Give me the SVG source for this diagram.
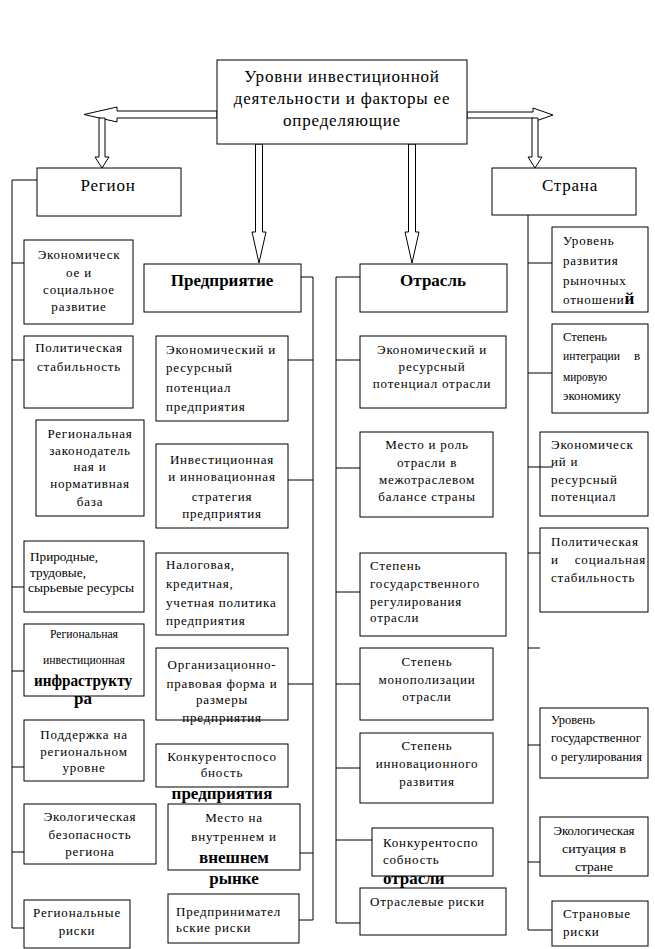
<svg xmlns="http://www.w3.org/2000/svg" width="655" height="949" viewBox="0 0 655 949" font-family="'Liberation Serif', 'Times New Roman', Tinos, 'DejaVu Serif', serif">
<style>
.box{fill:#fff;stroke:#000;stroke-width:1}
.arr{fill:#fff;stroke:#000;stroke-width:1}
.conn{fill:none;stroke:#000;stroke-width:1}
text{font-family:'Liberation Serif','Times New Roman',Tinos,'DejaVu Serif',serif;font-size:13px;letter-spacing:0.8px;fill:#000}
.c{text-anchor:middle}
.h{font-size:17px;letter-spacing:0.8px}
.bb{font-weight:bold;font-size:17px;letter-spacing:0}
.n{letter-spacing:0}
</style>
<rect width="655" height="949" fill="#fff"/>

<g id="arrows">
<polygon class="arr" points="217,111 117,111 117,107 84,114.5 117,122 117,118 217,118"/>
<polygon class="arr" points="99,118 99,157 95,157 102,168 109,157 105,157 105,118"/>
<polygon class="arr" points="467,112 533,112 533,108 553,115 533,122 533,118 467,118"/>
<polygon class="arr" points="532,118 532,157 528,157 535,168 542,157 538,157 538,118"/>
<polygon class="arr" points="255.5,144 255.5,232 252,232 259,263 266,232 262.5,232 262.5,144"/>
<polygon class="arr" points="408.5,144 408.5,232 405,232 412,263 419,232 415.5,232 415.5,144"/>
</g>

<g id="title">
<rect class="box" x="217" y="60" width="250" height="84"/>
<text class="c h" x="342" y="82">Уровни инвестиционной</text>
<text class="c h" x="342" y="104">деятельности и факторы ее</text>
<text class="c h" x="342" y="126">определяющие</text>
</g>

<g id="region">
<rect class="box" x="37" y="168" width="144" height="48"/>
<text class="c h" x="108" y="191">Регион</text>
</g>
<g id="country">
<rect class="box" x="492" y="168" width="144" height="47"/>
<text class="c h" x="570" y="191">Страна</text>
</g>
<g id="enterprise">
<rect class="box" x="144" y="264" width="157" height="48"/>
<text class="c bb" x="222" y="286">Предприятие</text>
</g>
<g id="industry">
<rect class="box" x="360" y="264" width="147" height="48"/>
<text class="c bb" x="433" y="286">Отрасль</text>
</g>

<g id="r1">
<rect class="box" x="24" y="240" width="109" height="84"/>
<text class="c" x="79" y="259">Экономическ</text>
<text class="c" x="79" y="277">ое и</text>
<text class="c" x="79" y="294">социальное</text>
<text class="c" x="79" y="311">развитие</text>
</g>
<g id="r2">
<rect class="box" x="24" y="336" width="109" height="72"/>
<text class="c" x="79" y="352">Политическая</text>
<text class="c" x="79" y="371">стабильность</text>
</g>
<g id="r3">
<rect class="box" x="36" y="420" width="108" height="96"/>
<text class="c" x="90" y="438">Региональная</text>
<text class="c" x="90" y="455">законодатель</text>
<text class="c" x="90" y="471">ная и</text>
<text class="c" x="90" y="488">нормативная</text>
<text class="c" x="90" y="506">база</text>
</g>
<g id="r4">
<rect class="box" x="24" y="541" width="120" height="71"/>
<text class="n" x="30" y="561" textLength="68" lengthAdjust="spacingAndGlyphs">Природные,</text>
<text class="n" x="30" y="577" textLength="56" lengthAdjust="spacingAndGlyphs">трудовые,</text>
<text class="n" x="28" y="592" textLength="106" lengthAdjust="spacingAndGlyphs">сырьевые ресурсы</text>
</g>
<g id="r5">
<rect class="box" x="24" y="624" width="120" height="72"/>
<text class="c n" x="84" y="638" textLength="68" lengthAdjust="spacingAndGlyphs">Региональная</text>
<text class="c n" x="84" y="664" textLength="82" lengthAdjust="spacingAndGlyphs">инвестиционная</text>
<text class="c bb" x="83" y="686" textLength="98" lengthAdjust="spacingAndGlyphs">инфраструкту</text>
<text class="c bb" x="83" y="704">ра</text>
</g>
<g id="r6">
<rect class="box" x="24" y="720" width="120" height="61"/>
<text class="c" x="84" y="739">Поддержка на</text>
<text class="c" x="84" y="756">региональном</text>
<text class="c" x="84" y="772">уровне</text>
</g>
<g id="r7">
<rect class="box" x="24" y="804" width="132" height="60"/>
<text class="c" x="90" y="821">Экологическая</text>
<text class="c" x="90" y="839">безопасность</text>
<text class="c" x="90" y="856">региона</text>
</g>
<g id="r8">
<rect class="box" x="24" y="900" width="106" height="48"/>
<text class="c" x="77" y="917">Региональные</text>
<text class="c" x="77" y="935">риски</text>
</g>

<g id="e1">
<rect class="box" x="156" y="336" width="132" height="85"/>
<text x="166" y="354">Экономический и</text>
<text x="166" y="372">ресурсный</text>
<text x="166" y="392">потенциал</text>
<text x="166" y="411">предприятия</text>
</g>
<g id="e2">
<rect class="box" x="156" y="444" width="132" height="84"/>
<text class="c" x="222" y="464">Инвестиционная</text>
<text class="c" x="222" y="481">и инновационная</text>
<text class="c" x="222" y="501">стратегия</text>
<text class="c" x="222" y="518">предприятия</text>
</g>
<g id="e3">
<rect class="box" x="156" y="553" width="132" height="82"/>
<text x="166" y="569">Налоговая,</text>
<text x="166" y="588">кредитная,</text>
<text x="166" y="607">учетная политика</text>
<text x="166" y="625">предприятия</text>
</g>
<g id="e4">
<rect class="box" x="156" y="648" width="132" height="72"/>
<text class="c" x="222" y="669">Организационно-</text>
<text class="c" x="222" y="688">правовая форма и</text>
<text class="c" x="222" y="704">размеры</text>
<text class="c" x="222" y="722">предприятия</text>
</g>
<g id="e5">
<rect class="box" x="156" y="744" width="132" height="43"/>
<text class="c" x="222" y="761">Конкурентоспосо</text>
<text class="c" x="222" y="777">бность</text>
<text class="c bb" x="222" y="799">предприятия</text>
</g>
<g id="e6">
<rect class="box" x="168" y="804" width="132" height="66"/>
<text class="c" x="234" y="822">Место на</text>
<text class="c" x="234" y="841">внутреннем и</text>
<text class="c bb" x="234" y="863">внешнем</text>
<text class="c bb" x="234" y="884">рынке</text>
</g>
<g id="e7">
<rect class="box" x="168" y="894" width="131" height="49"/>
<text x="176" y="916">Предпринимател</text>
<text x="176" y="932">ьские риски</text>
</g>

<g id="i1">
<rect class="box" x="360" y="336" width="146" height="72"/>
<text class="c" x="432" y="354">Экономический и</text>
<text class="c" x="432" y="371">ресурсный</text>
<text class="c" x="432" y="388">потенциал отрасли</text>
</g>
<g id="i2">
<rect class="box" x="360" y="432" width="133" height="85"/>
<text class="c" x="427" y="449">Место и роль</text>
<text class="c" x="427" y="467">отрасли в</text>
<text class="c" x="427" y="484">межотраслевом</text>
<text class="c" x="427" y="501">балансе страны</text>
</g>
<g id="i3">
<rect class="box" x="360" y="553" width="146" height="83"/>
<text x="370" y="570">Степень</text>
<text x="370" y="588">государственного</text>
<text x="370" y="606">регулирования</text>
<text x="370" y="622">отрасли</text>
</g>
<g id="i4">
<rect class="box" x="360" y="648" width="133" height="72"/>
<text class="c" x="427" y="666">Степень</text>
<text class="c" x="427" y="684">монополизации</text>
<text class="c" x="427" y="701">отрасли</text>
</g>
<g id="i5">
<rect class="box" x="360" y="733" width="133" height="70"/>
<text class="c" x="427" y="750">Степень</text>
<text class="c" x="427" y="768">инновационного</text>
<text class="c" x="427" y="786">развития</text>
</g>
<g id="i6">
<rect class="box" x="372" y="828" width="121" height="48"/>
<text x="383" y="847">Конкурентоспо</text>
<text x="383" y="864">собность</text>
<text class="bb" x="383" y="884">отрасли</text>
</g>
<g id="i7">
<rect class="box" x="360" y="888" width="146" height="47"/>
<text x="370" y="906">Отраслевые риски</text>
</g>

<g id="c1">
<rect class="box" x="552" y="227" width="96" height="85"/>
<text x="563" y="245">Уровень</text>
<text x="563" y="265">развития</text>
<text x="563" y="285">рыночных</text>
<text x="563" y="304">отношени<tspan class="bb">й</tspan></text>
</g>
<g id="c2">
<rect class="box" x="552" y="324" width="96" height="89"/>
<text class="n" x="563" y="341" textLength="44" lengthAdjust="spacingAndGlyphs">Степень</text>
<text class="n" x="563" y="360" textLength="57" lengthAdjust="spacingAndGlyphs">интеграции</text>
<text class="n" x="634" y="360">в</text>
<text class="n" x="563" y="381" textLength="44" lengthAdjust="spacingAndGlyphs">мировую</text>
<text class="n" x="563" y="400" textLength="58" lengthAdjust="spacingAndGlyphs">экономику</text>
</g>
<g id="c3">
<rect class="box" x="540" y="432" width="108" height="84"/>
<text x="551" y="449">Экономическ</text>
<text x="551" y="466">ий и</text>
<text x="551" y="484">ресурсный</text>
<text x="551" y="501">потенциал</text>
</g>
<g id="c4">
<rect class="box" x="540" y="528" width="108" height="84"/>
<text x="551" y="546">Политическая</text>
<text x="551" y="564">и</text>
<text x="646" y="564" text-anchor="end">социальная</text>
<text x="551" y="582">стабильность</text>
</g>
<g id="c5">
<rect class="box" x="540" y="708" width="108" height="70"/>
<text class="n" x="551" y="724" textLength="44" lengthAdjust="spacingAndGlyphs">Уровень</text>
<text class="n" x="551" y="742" textLength="90" lengthAdjust="spacingAndGlyphs">государственног</text>
<text class="n" x="551" y="761" textLength="91" lengthAdjust="spacingAndGlyphs">о регулирования</text>
</g>
<g id="c6">
<rect class="box" x="540" y="817" width="108" height="59"/>
<text class="c n" x="594" y="835" textLength="81" lengthAdjust="spacingAndGlyphs">Экологическая</text>
<text class="c n" x="594" y="853" textLength="64" lengthAdjust="spacingAndGlyphs">ситуация в</text>
<text class="c n" x="594" y="871" textLength="38" lengthAdjust="spacingAndGlyphs">стране</text>
</g>
<g id="c7">
<rect class="box" x="552" y="901" width="96" height="45"/>
<text x="563" y="918">Страновые</text>
<text x="563" y="936">риски</text>
</g>

<g id="connectors">
<path class="conn" d="M37,180 H12 V928 H24 M12,263 H24 M12,360 H24 M12,587 H24 M12,671 H24 M12,767 H24 M12,852 H24"/>
<path class="conn" d="M301,277 H313 V920 H299 M288,360 H313 M288,480 H313 M288,684 H313 M300,853 H313"/>
<path class="conn" d="M360,277 H336 V923 H360 M336,360 H360 M336,468 H360 M336,592 H360 M336,684 H360 M336,768 H360 M336,840 H372"/>
<path class="conn" d="M528,215 V930 H552 M528,263 H552 M528,373 H552 M528,467 H553 M528,553 H540 M528,648 H540 M528,745 H540 M528,862 H540"/>
</g>
</svg>
